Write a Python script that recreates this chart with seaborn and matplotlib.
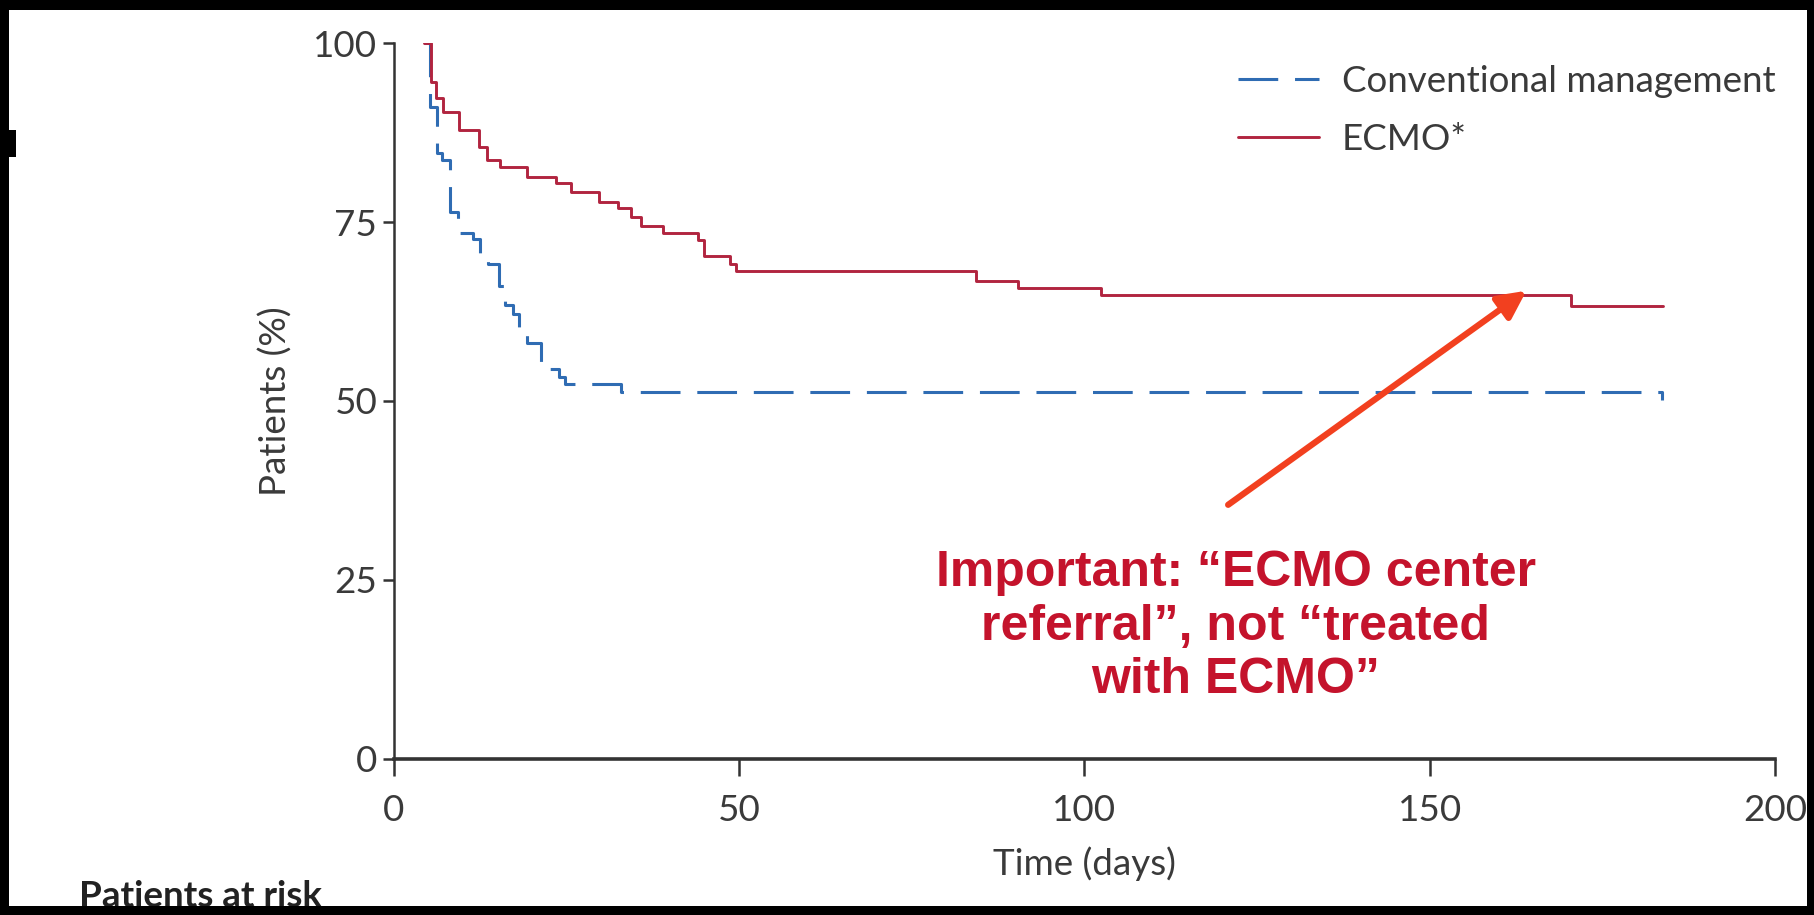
import matplotlib
matplotlib.use("Agg")
import matplotlib.pyplot as plt
from matplotlib.patches import Rectangle
import seaborn as sns

# Kaplan-Meier estimates: day of each step and % of patients remaining after it
cm_days = [4.4, 5.2, 6.2, 7.0, 8.1, 9.2, 11.5, 12.4, 13.6, 15.2, 16.1, 17.2,
           18.1, 19.2, 21.3, 23.9, 24.8, 32.9, 183.6]
cm_pct = [100, 91.0, 84.6, 83.7, 76.4, 73.5, 72.6, 70.4, 69.2, 66.0, 63.4, 62.1,
          60.3, 58.1, 54.5, 53.4, 52.4, 51.3, 50.1]

ecmo_days = [4.4, 5.3, 6.1, 7.1, 9.4, 12.3, 13.5, 15.3, 19.3, 23.4, 25.6, 29.7,
             32.4, 34.3, 35.7, 38.9, 44.0, 44.9, 48.6, 49.5, 84.3, 90.3, 102.4,
             170.4, 183.8]
ecmo_pct = [100, 94.6, 92.3, 90.4, 87.8, 85.5, 83.7, 82.7, 81.3, 80.4, 79.2, 77.8,
            76.9, 75.7, 74.5, 73.5, 72.5, 70.2, 69.2, 68.2, 66.8, 65.8, 64.8,
            63.3, 63.3]

series_labels = ["Conventional management", "ECMO*"]
x_ticks = [0, 50, 100, 150, 200]
y_ticks = [0, 25, 50, 75, 100]

note_text = "Important: \u201cECMO center\nreferral\u201d, not \u201ctreated\nwith ECMO\u201d"
arrow_tail = (120.8, 35.5)
arrow_head = (164.0, 65.4)

BLUE = "#2f6cb3"
RED = "#b1243f"
NOTE_RED = "#c4132c"
ARROW = "#f2401f"
AXIS = "#333333"
TEXT = "#3a3a3a"
FS = 26.5

sns.set_style("ticks")
plt.rcParams["font.family"] = ["Lato", "DejaVu Sans"]

fig = plt.figure(figsize=(18.14, 9.15), dpi=100)
fig.patch.set_facecolor("white")
ax = fig.add_axes([0.2172, 0.1705, 0.7613, 0.7825])

sns.lineplot(x=cm_days, y=cm_pct, ax=ax, drawstyle="steps-post", color=BLUE,
             linewidth=2.2, linestyle=(0, (13, 5.5)), estimator=None)
cm_line = ax.lines[-1]
sns.lineplot(x=ecmo_days, y=ecmo_pct, ax=ax, drawstyle="steps-post", color=RED,
             linewidth=2.1, estimator=None)
ecmo_line = ax.lines[-1]

ax.set_xlim(0, 200)
ax.set_ylim(0, 100)
ax.set_xticks(x_ticks)
ax.set_yticks(y_ticks)
sns.despine(ax=ax)
ax.spines["left"].set_linewidth(1.8)
ax.spines["bottom"].set_linewidth(2.6)
for s in ("left", "bottom"):
    ax.spines[s].set_color(AXIS)
ax.tick_params(axis="y", length=8, width=1.8, pad=4, labelsize=FS,
               colors=AXIS, labelcolor=TEXT)
ax.tick_params(axis="x", length=12, width=1.8, pad=13, labelsize=FS,
               colors=AXIS, labelcolor=TEXT)
ax.set_xlabel("Time (days)", fontsize=FS, color=TEXT, labelpad=14)
ax.set_ylabel("Patients (%)", fontsize=FS, color=TEXT, labelpad=15)

ax.legend(handles=[cm_line, ecmo_line], labels=series_labels,
          loc="upper left", bbox_to_anchor=(0.611, 0.969), frameon=False,
          fontsize=FS, handlelength=2.2, handletextpad=0.63,
          labelspacing=0.67, borderaxespad=0, borderpad=0,
          labelcolor=TEXT)

ax.annotate("", xy=arrow_head, xytext=arrow_tail,
            arrowprops=dict(arrowstyle="-|>", color=ARROW, lw=4.5,
                            mutation_scale=42, shrinkA=0, shrinkB=0))
ax.text(121.9, 18.5, note_text, ha="center", va="center", multialignment="center",
        fontsize=36, fontweight="bold", color=NOTE_RED, linespacing=1.21,
        family=["Liberation Sans", "DejaVu Sans"])

fig.text(79 / 1814, 1 - 907 / 915, "Patients at risk", ha="left", va="baseline",
         fontsize=FS, fontweight="bold", color="#222222")

# black frame around the panel
frame = [(0, 0, 9 / 1814, 1), (1807 / 1814, 0, 7 / 1814, 1),
         (0, 1 - 10 / 915, 1, 10 / 915), (0, 0, 1, 9 / 915),
         (0, 1 - 157 / 915, 16 / 1814, 27 / 915)]
for x0, y0, w, h in frame:
    fig.patches.append(Rectangle((x0, y0), w, h, transform=fig.transFigure,
                                 facecolor="black", edgecolor="none", zorder=10))

fig.savefig("out.png", dpi=100)
